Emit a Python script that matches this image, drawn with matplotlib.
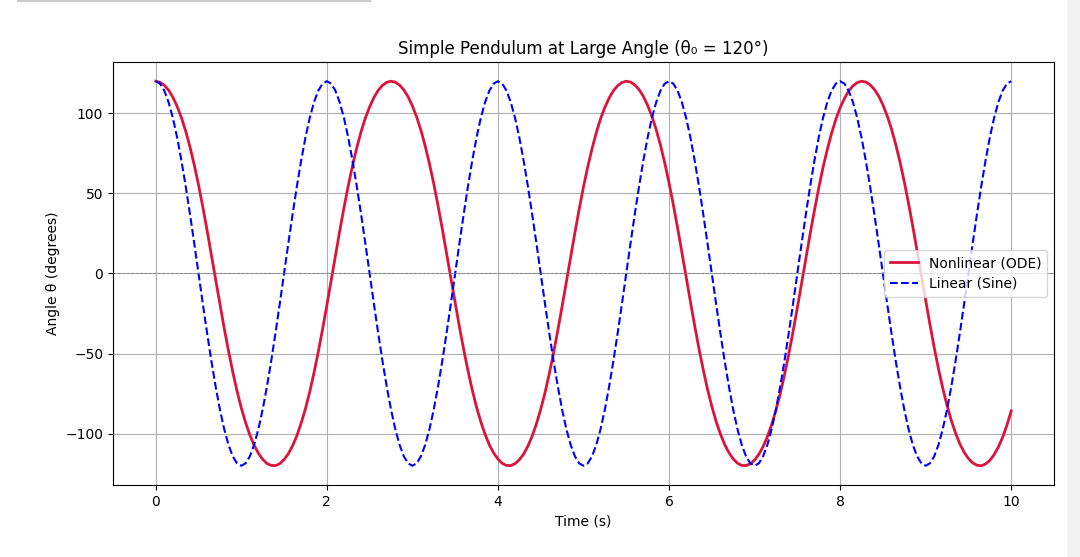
import matplotlib
matplotlib.use("Agg")
import matplotlib.pyplot as plt
from matplotlib.patches import Rectangle
from matplotlib.lines import Line2D

# time grid (s), one sample every 0.05 s
t = [round(0.05 * i, 2) for i in range(201)]

# nonlinear pendulum angle (deg)
theta_nonlinear = [
    120.0, 119.3, 117.5, 114.4, 110.0, 104.3, 97.3, 88.9, 79.0, 67.8,
    55.3, 41.6, 27.0, 11.8, -3.7, -19.1, -34.1, -48.2, -61.4, -73.3,
    -83.9, -93.0, -100.8, -107.2, -112.2, -116.0, -118.6, -119.8, -119.9, -118.7,
    -116.2, -112.5, -107.5, -101.2, -93.4, -84.4, -73.9, -62.0, -48.9, -34.8,
    -19.9, -4.5, 11.1, 26.3, 40.9, 54.6, 67.2, 78.5, 88.4, 97.0,
    104.0, 109.8, 114.3, 117.4, 119.3, 120.0, 119.4, 117.6, 114.6, 110.3,
    104.6, 97.7, 89.4, 79.5, 68.4, 56.0, 42.3, 27.8, 12.6, -2.9,
    -18.3, -33.3, -47.5, -60.7, -72.7, -83.4, -92.6, -100.4, -107.0, -112.0,
    -115.8, -118.5, -119.8, -119.9, -118.7, -116.3, -112.7, -107.8, -101.5, -93.9,
    -84.8, -74.5, -62.6, -49.6, -35.5, -20.6, -5.2, 10.3, 25.5, 40.2,
    54.0, 66.6, 77.9, 87.9, 96.6, 103.7, 109.5, 114.1, 117.2, 119.2,
    120.0, 119.5, 117.7, 114.8, 110.6, 104.9, 98.1, 89.8, 80.1, 69.0,
    56.6, 43.0, 28.5, 13.4, -2.1, -17.6, -32.6, -46.9, -60.1, -72.2,
    -82.9, -92.2, -100.1, -106.7, -111.8, -115.7, -118.4, -119.8, -119.9, -118.8,
    -116.5, -112.9, -108.0, -101.9, -94.3, -85.3, -75.0, -63.2, -50.3, -36.2,
    -21.4, -6.0, 9.5, 24.8, 39.4, 53.3, 66.1, 77.4, 87.5, 96.2,
    103.4, 109.2, 113.9, 117.1, 119.1, 120.0, 119.5, 117.8, 114.9, 110.8,
    105.3, 98.4, 90.3, 80.6, 69.6, 57.3, 43.7, 29.3, 14.1, -1.4,
    -16.8, -31.8, -46.2, -59.5, -71.6, -82.4, -91.8, -99.7, -106.4, -111.6,
    -115.5, -118.2, -119.7, -120.0, -118.9, -116.7, -113.1, -108.3, -102.3, -94.7,
    -85.8,
]

# linear (small-angle) solution (deg), the blue dashed curve
theta_linear = [
    120.0, 118.5, 114.1, 106.9, 97.1, 84.9, 70.5, 54.5, 37.1, 18.8,
    0.0, -18.8, -37.1, -54.5, -70.5, -84.9, -97.1, -106.9, -114.1, -118.5,
    -120.0, -118.5, -114.1, -106.9, -97.1, -84.9, -70.5, -54.5, -37.1, -18.8,
    0.0, 18.8, 37.1, 54.5, 70.5, 84.9, 97.1, 106.9, 114.1, 118.5,
    120.0, 118.5, 114.1, 106.9, 97.1, 84.9, 70.5, 54.5, 37.1, 18.8,
    0.0, -18.8, -37.1, -54.5, -70.5, -84.9, -97.1, -106.9, -114.1, -118.5,
    -120.0, -118.5, -114.1, -106.9, -97.1, -84.9, -70.5, -54.5, -37.1, -18.8,
    0.0, 18.8, 37.1, 54.5, 70.5, 84.9, 97.1, 106.9, 114.1, 118.5,
    120.0, 118.5, 114.1, 106.9, 97.1, 84.9, 70.5, 54.5, 37.1, 18.8,
    0.0, -18.8, -37.1, -54.5, -70.5, -84.9, -97.1, -106.9, -114.1, -118.5,
    -120.0, -118.5, -114.1, -106.9, -97.1, -84.9, -70.5, -54.5, -37.1, -18.8,
    0.0, 18.8, 37.1, 54.5, 70.5, 84.9, 97.1, 106.9, 114.1, 118.5,
    120.0, 118.5, 114.1, 106.9, 97.1, 84.9, 70.5, 54.5, 37.1, 18.8,
    0.0, -18.8, -37.1, -54.5, -70.5, -84.9, -97.1, -106.9, -114.1, -118.5,
    -120.0, -118.5, -114.1, -106.9, -97.1, -84.9, -70.5, -54.5, -37.1, -18.8,
    0.0, 18.8, 37.1, 54.5, 70.5, 84.9, 97.1, 106.9, 114.1, 118.5,
    120.0, 118.5, 114.1, 106.9, 97.1, 84.9, 70.5, 54.5, 37.1, 18.8,
    0.0, -18.8, -37.1, -54.5, -70.5, -84.9, -97.1, -106.9, -114.1, -118.5,
    -120.0, -118.5, -114.1, -106.9, -97.1, -84.9, -70.5, -54.5, -37.1, -18.8,
    0.0, 18.8, 37.1, 54.5, 70.5, 84.9, 97.1, 106.9, 114.1, 118.5,
    120.0,
]

fig, ax = plt.subplots(figsize=(10.8, 5.57), dpi=100)
fig.subplots_adjust(left=0.1046, right=0.9759, top=0.8887, bottom=0.1293)

ax.plot(t, theta_nonlinear, color="crimson", linewidth=2,
        label="Nonlinear (ODE)")
ax.plot(t, theta_linear, color="blue", linestyle="--", linewidth=1.5,
        label="Linear (Sine)")
ax.axhline(0, color="gray", linewidth=0.6, linestyle="--")

ax.set_title("Simple Pendulum at Large Angle (θ₀ = 120°)", fontsize=12)
ax.set_xlabel("Time (s)")
ax.set_ylabel("Angle θ (degrees)")
ax.grid(True)
ax.legend(loc="center right")

# screenshot frame bits
fig.patches.append(Rectangle((0.988, 0), 0.012, 1, transform=fig.transFigure,
                             facecolor="#f2f2f2", edgecolor="none", zorder=-1))
fig.lines.append(Line2D([0.017, 0.343], [0.998, 0.998], transform=fig.transFigure,
                        color="#cccccc", linewidth=1.5))

fig.savefig("out.png", dpi=100)
